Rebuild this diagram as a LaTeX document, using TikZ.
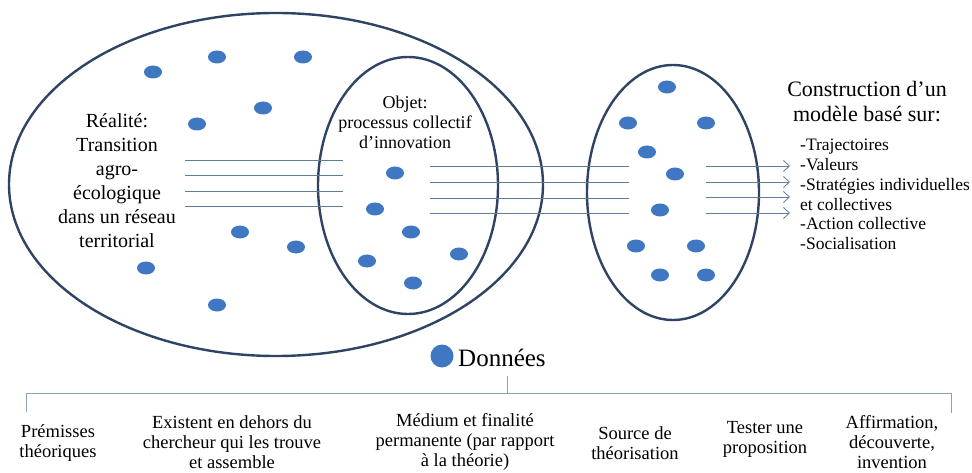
\documentclass[tikz,border=0pt]{standalone}
\usepackage{fontspec}
\setmainfont{Liberation Serif}
\usepackage{tikz}
\usetikzlibrary{arrows.meta, positioning}
\definecolor{rimnavy}{HTML}{2F4465}
\definecolor{dotblue}{HTML}{3F77C2}
\definecolor{flowgrey}{HTML}{5F7D9B}
\definecolor{bracegrey}{HTML}{8DA2B6}

\tikzset{
  rim/.style={draw=rimnavy, line width=2.4pt},
  donnee/.style={fill=dotblue},
  flow/.style={draw=flowgrey, line width=0.8pt},
  brace/.style={draw=bracegrey, line width=0.9pt},
  biglabel/.style={font=\fontsize{20}{24}\selectfont, align=center, inner sep=0pt},
  smalllabel/.style={font=\fontsize{18.5}{20}\selectfont, align=center, inner sep=0pt}
}

\begin{document}
\begin{tikzpicture}[x=1pt, y=-1pt]
  \useasboundingbox (0,0) rectangle (972,473);

  % Reality, object and model ellipses
  \draw[rim] (276,184.5) ellipse (267 and 171.5);
  \draw[rim] (408,185.5) ellipse (90 and 128.5);
  \draw[rim] (673,192.5) ellipse (86 and 127.5);

  % Data points
  \foreach \x/\y in {153/72, 217/57, 303/57, 263/108, 197/124, 395/173, 375/209,
                     411/232, 240/232, 296/247, 367/261, 459/254, 146/268, 413/283, 217/305,
                     667/87, 628/123, 706/123, 647/152, 675/174, 660/210,
                     636/246, 696/246, 660/275, 706/275}
    \fill[donnee] (\x,\y) ellipse (9 and 6.5);

  % Labels inside the ellipses
  \node[biglabel] (realite) at (117,181) {Réalité:\\Transition\\agro-\\écologique\\dans un réseau\\territorial};
  \node[font=\fontsize{18}{20}\selectfont, align=center, inner sep=0pt] (objet) at (405,122)
    {Objet:\\processus collectif\\d'innovation};

  % Flow lines
  \foreach \y in {160,175,191,206}
    \draw[flow] (185,\y) -- (343,\y);
  \foreach \y in {166,182,198,213}
    \draw[flow] (430,\y) -- (629,\y);
  \foreach \y in {166,182,197,213}
    \draw[flow, -{Straight Barb[length=6pt,width=11pt]}] (706,\y) -- (790,\y);

  % Model
  \node[font=\fontsize{22}{25}\selectfont, align=center, inner sep=0pt] (modele) at (867,102)
    {Construction d'un\\modèle basé sur:};
  \node[font=\fontsize{17.5}{19.8}\selectfont, align=left, inner sep=0pt, anchor=west] (criteres) at (800,194.5)
    {-Trajectoires\\-Valeurs\\-Stratégies individuelles\\et collectives\\-Action collective\\-Socialisation};

  % Legend
  \fill[donnee] (442,356) circle (11.5);
  \node[font=\fontsize{25}{28}\selectfont, inner sep=0pt, anchor=west] (donnees) at (458,358) {Données};

  % Bracket
  \draw[brace] (26,412) -- (26,393) -- (951,393) -- (951,413);
  \draw[brace] (507,393) -- (507,376);

  % Uses of data
  \node[smalllabel] (premisses) at (58,443) {Prémisses\\théoriques};
  \node[smalllabel] (existent) at (232,442) {Existent en dehors du\\chercheur qui les trouve\\et assemble};
  \node[smalllabel] (medium) at (465,442) {Médium et finalité\\permanente (par rapport\\à la théorie)};
  \node[smalllabel] (source) at (635,443) {Source de\\théorisation};
  \node[smalllabel] (tester) at (765,439) {Tester une\\proposition};
  \node[smalllabel] (affirmation) at (892,442) {Affirmation,\\découverte,\\invention};
\end{tikzpicture}
\end{document}
